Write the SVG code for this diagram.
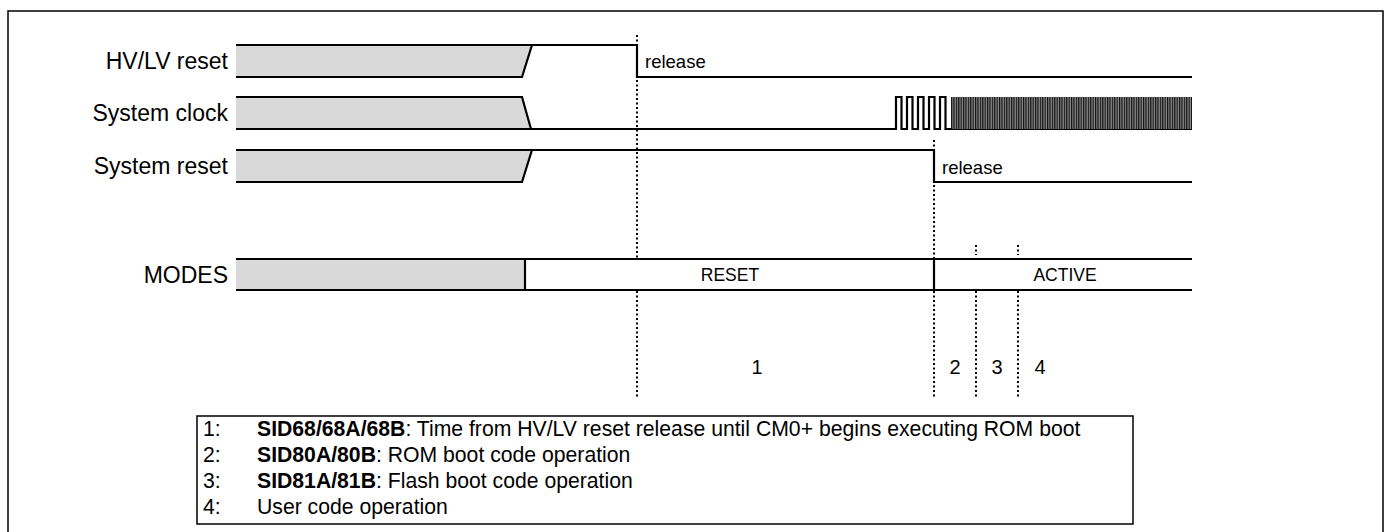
<svg xmlns="http://www.w3.org/2000/svg" width="1390" height="532" viewBox="0 0 1390 532">
<style>
.lbl{font-family:"Liberation Sans",Arial,sans-serif;font-size:23px;fill:#000}
.rel{font-family:"Liberation Sans",Arial,sans-serif;font-size:18.5px;fill:#000}
.sm{font-family:"Liberation Sans",Arial,sans-serif;font-size:17.5px;fill:#000}
.num{font-family:"Liberation Sans",Arial,sans-serif;font-size:20px;fill:#000}
.leg{font-family:"Liberation Sans",Arial,sans-serif;font-size:21.2px;fill:#000}
.b{font-weight:bold}
.wave{fill:none;stroke:#000;stroke-width:2.2}
.gray{fill:#d9d9d9;stroke:none}
.dot{fill:none;stroke:#000;stroke-width:2;stroke-dasharray:2 2.5}
</style>
<defs>
<pattern id="clk" patternUnits="userSpaceOnUse" x="951" y="97" width="2.4" height="32">
<rect width="2.4" height="32" fill="#8a8a8a"/>
<rect width="1.2" height="32" fill="#111"/>
</pattern>
</defs>
<rect x="8" y="11" width="1375" height="540" fill="#fff" stroke="#000" stroke-width="1.5"/>

<g id="connectors">
<path class="dot" d="M637,35 V259 M637,291 V397"/>
<path class="dot" d="M934,140 V259 M934,291 V397"/>
<path class="dot" d="M976,245 V255 M976,291 V397"/>
<path class="dot" d="M1018,245 V255 M1018,291 V397"/>
</g>

<g id="hvlv-reset">
<text class="lbl" x="228" y="69" text-anchor="end">HV/LV reset</text>
<polygon class="gray" points="236,45 532,45 522,77 236,77"/>
<path class="wave" d="M236,45 H637 V77 H1192"/>
<path class="wave" d="M236,77 H522 L532,45"/>
<text class="rel" x="645" y="67.5">release</text>
</g>

<g id="system-clock">
<text class="lbl" x="228" y="121" text-anchor="end">System clock</text>
<polygon class="gray" points="236,97 522,97 531,129 236,129"/>
<path class="wave" d="M236,97 H522 L531,129"/>
<path class="wave" d="M236,129 H896 V97 h5.5 v32 h5.5 v-32 h5.5 v32 h5.5 v-32 h5.5 v32 h5.5 v-32 h5.5 v32 h5.5 v-32 h5.5 v32 h5 H1192"/>
<rect x="951" y="97" width="241" height="32" fill="url(#clk)"/>
</g>

<g id="system-reset">
<text class="lbl" x="228" y="174" text-anchor="end">System reset</text>
<polygon class="gray" points="236,150 532,150 522,182 236,182"/>
<path class="wave" d="M236,150 H934 V182 H1192"/>
<path class="wave" d="M236,182 H522 L532,150"/>
<text class="rel" x="942" y="174">release</text>
</g>

<g id="modes">
<text class="lbl" x="228" y="283" text-anchor="end">MODES</text>
<rect class="gray" x="236" y="259" width="289" height="31"/>
<path class="wave" d="M236,259 H1192 M236,290 H1192 M525,259 V290 M934,259 V290"/>
<text class="sm" x="730" y="281" text-anchor="middle">RESET</text>
<text class="sm" x="1065" y="281" text-anchor="middle">ACTIVE</text>
</g>

<g id="phases">
<text class="num" x="757" y="374" text-anchor="middle">1</text>
<text class="num" x="955" y="374" text-anchor="middle">2</text>
<text class="num" x="997" y="374" text-anchor="middle">3</text>
<text class="num" x="1040" y="374" text-anchor="middle">4</text>
</g>

<g id="legend">
<rect x="197" y="416" width="936" height="108" fill="#fff" stroke="#000" stroke-width="1.5"/>
<text class="leg" x="203" y="436">1:</text>
<text class="leg" x="257" y="436"><tspan class="b">SID68/68A/68B</tspan>: Time from HV/LV reset release until CM0+ begins executing ROM boot</text>
<text class="leg" x="203" y="462">2:</text>
<text class="leg" x="257" y="462"><tspan class="b">SID80A/80B</tspan>: ROM boot code operation</text>
<text class="leg" x="203" y="488">3:</text>
<text class="leg" x="257" y="488"><tspan class="b">SID81A/81B</tspan>: Flash boot code operation</text>
<text class="leg" x="203" y="514">4:</text>
<text class="leg" x="257" y="514">User code operation</text>
</g>
</svg>
